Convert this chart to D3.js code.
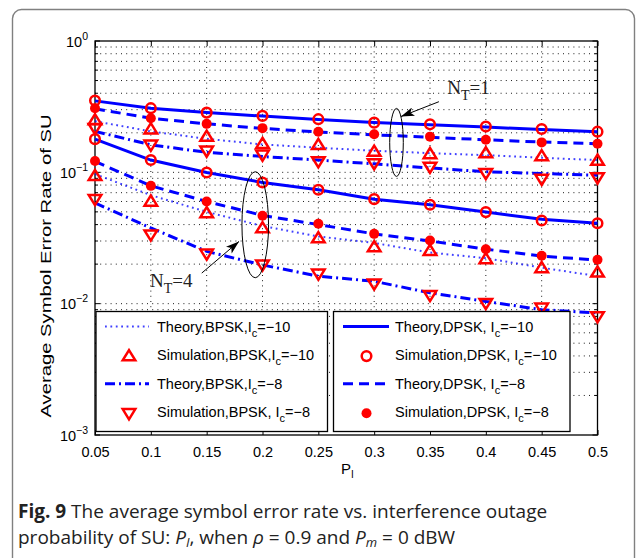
<!DOCTYPE html>
<html><head><meta charset="utf-8">
<script src="https://cdn.jsdelivr.net/npm/d3@7"></script>
<style>body{margin:0;background:#fff}svg{display:block}</style>
</head><body><svg id="c" width="637" height="558"></svg>
<script>
const pI = [0.05,0.1,0.15,0.2,0.25,0.3,0.35,0.4,0.45,0.5];
const xTickLabels = ["0.05","0.1","0.15","0.2","0.25","0.3","0.35","0.4","0.45","0.5"];
const yTickExps = ["0","\u22121","\u22122","\u22123"];
// N_T = 1
const thDPSK10_N1 = [0.350,0.308,0.285,0.268,0.253,0.240,0.230,0.221,0.212,0.204];
const simDPSK10_N1 = [0.352,0.308,0.285,0.269,0.254,0.239,0.232,0.223,0.214,0.204];
const thDPSK8_N1 = [0.305,0.258,0.234,0.216,0.203,0.193,0.185,0.177,0.170,0.165];
const simDPSK8_N1 = [0.308,0.258,0.234,0.217,0.204,0.195,0.187,0.177,0.169,0.165];
const thBPSK10_N1 = [0.245,0.205,0.180,0.163,0.154,0.146,0.140,0.135,0.129,0.124];
const simBPSK10_N1 = [0.250,0.213,0.187,0.165,0.162,0.144,0.138,0.140,0.133,0.123];
const thBPSK8_N1 = [0.205,0.162,0.142,0.132,0.124,0.116,0.108,0.101,0.098,0.095];
const simBPSK8_N1 = [0.217,0.162,0.146,0.136,0.121,0.117,0.110,0.0985,0.089,0.0913];
// N_T = 4
const thDPSK10_N4 = [0.179,0.124,0.0997,0.0837,0.0736,0.0625,0.0566,0.0498,0.044,0.041];
const simDPSK10_N4 = [0.179,0.124,0.0997,0.0837,0.0736,0.0625,0.0566,0.0498,0.043,0.041];
const thDPSK8_N4 = [0.121,0.079,0.060,0.047,0.040,0.034,0.030,0.026,0.023,0.0215];
const simDPSK8_N4 = [0.122,0.0789,0.060,0.0467,0.0406,0.034,0.0303,0.026,0.0232,0.0216];
const thBPSK10_N4 = [0.097,0.067,0.050,0.039,0.0325,0.029,0.0245,0.0222,0.0188,0.0162];
const simBPSK10_N4 = [0.094,0.060,0.049,0.0376,0.0316,0.027,0.0253,0.0219,0.0187,0.0173];
const thBPSK8_N4 = [0.0585,0.0377,0.025,0.0197,0.0162,0.0148,0.0121,0.0104,0.0090,0.0085];
const simBPSK8_N4 = [0.0625,0.0335,0.024,0.0198,0.0169,0.0142,0.0116,0.0101,0.0093,0.0080];

const legendLeft = [
  {pre:"Theory,BPSK,I", post:"=\u221210", type:"dotted"},
  {pre:"Simulation,BPSK,I", post:"=\u221210", type:"triUp"},
  {pre:"Theory,BPSK,I", post:"=\u22128", type:"dashdot"},
  {pre:"Simulation,BPSK, I", post:"=\u22128", type:"triDown"}
];
const legendRight = [
  {pre:"Theory,DPSK, I", post:"=\u221210", type:"solid"},
  {pre:"Simulation,DPSK, I", post:"=\u221210", type:"circle"},
  {pre:"Theory,DPSK, I", post:"=\u22128", type:"dashed"},
  {pre:"Simulation,DPSK, I", post:"=\u22128", type:"dot"}
];

const svg = d3.select("#c");
const L=95, R=597.5, T=41, B=435;
const x = d3.scaleLinear().domain([0.05,0.5]).range([L,R]);
const y = d3.scaleLog().domain([1e-3,1]).range([B,T]);
const FONT = "'Liberation Sans', Arial, Helvetica, sans-serif";
const BLUE = "#0000ff", RED = "#ff0000";

// outer frame
svg.append("rect").attr("x",12.5).attr("y",9.5).attr("width",622).attr("height",600)
  .attr("rx",9).attr("fill","none").attr("stroke","#808080").attr("stroke-width",1.4);

// grid
const g = svg.append("g");
const minor = [];
for (let e=-3;e<0;e++) for (let k=1;k<10;k++) minor.push(k*Math.pow(10,e));
minor.push(1);
g.selectAll(".hg").data(minor.filter(v=>v>1e-3 && v<1)).enter().append("line")
  .attr("x1",L).attr("x2",R).attr("y1",d=>y(d)).attr("y2",d=>y(d))
  .attr("stroke","#000").attr("stroke-width",0.9).attr("stroke-dasharray","1,4.2");
g.selectAll(".vg").data(pI.slice(1,-1)).enter().append("line")
  .attr("x1",d=>x(d)).attr("x2",d=>x(d)).attr("y1",T).attr("y2",B)
  .attr("stroke","#000").attr("stroke-width",0.9).attr("stroke-dasharray","1,4.2");

// axes ticks (inward)
const xa = d3.axisBottom(x).tickValues(pI).tickSize(-5).tickFormat((d,i)=>xTickLabels[i]).tickPadding(12);
const xg = svg.append("g").attr("transform",`translate(0,${B})`).call(xa);
xg.select(".domain").remove();
xg.selectAll("text").attr("font-family",FONT).attr("font-size",14.5).attr("fill","#000");
xg.selectAll("line").attr("stroke","#000");
const xt = d3.axisTop(x).tickValues(pI).tickSize(-5).tickFormat("");
const xtg = svg.append("g").attr("transform",`translate(0,${T})`).call(xt);
xtg.select(".domain").remove();
const isDecade = d=>[1,0.1,0.01,0.001].some(v=>Math.abs(v-d)<1e-9);
svg.selectAll(".ytl").data(minor).enter().append("line")
  .attr("x1",L).attr("x2",d=>L+(isDecade(d)?5:3))
  .attr("y1",d=>y(d)).attr("y2",d=>y(d)).attr("stroke","#000");
svg.selectAll(".ytr").data(minor).enter().append("line")
  .attr("x1",R).attr("x2",d=>R-(isDecade(d)?5:3))
  .attr("y1",d=>y(d)).attr("y2",d=>y(d)).attr("stroke","#000");
// y tick labels
const decades=[1,0.1,0.01,0.001];
const ylab = svg.selectAll(".ylab").data(decades).enter().append("text")
  .attr("x",88).attr("y",d=>y(d)+5.5).attr("text-anchor","end")
  .attr("font-family",FONT).attr("font-size",14.5).attr("fill","#000");
ylab.append("tspan").text("10");
ylab.append("tspan").attr("dy",-7).attr("font-size",10.5).text((d,i)=>yTickExps[i]);

// box
svg.append("rect").attr("x",L).attr("y",T).attr("width",R-L).attr("height",B-T)
  .attr("fill","none").attr("stroke","#000").attr("stroke-width",1.3);

// lines
const styles = {
  solid:{dash:null,w:3},
  dashed:{dash:"10,6",w:3},
  dotted:{dash:"1.8,3.6",w:2},
  dashdot:{dash:"10,4,2,4",w:3}
};
const lineGen = d3.line().x((d,i)=>x(pI[i])).y(d=>y(d));
const lines = [
  [thBPSK10_N1,"dotted"],[thBPSK8_N1,"dashdot"],[thDPSK10_N1,"solid"],[thDPSK8_N1,"dashed"],
  [thBPSK10_N4,"dotted"],[thBPSK8_N4,"dashdot"],[thDPSK10_N4,"solid"],[thDPSK8_N4,"dashed"]
];
svg.append("g").selectAll("path").data(lines).enter().append("path")
  .attr("d",d=>lineGen(d[0])).attr("fill","none").attr("stroke",BLUE)
  .attr("stroke-width",d=>styles[d[1]].w).attr("stroke-dasharray",d=>styles[d[1]].dash)
  .attr("opacity",d=>d[1]==="dotted"?0.75:1);

// markers
const TRI_UP="M0,-6L6.3,4.2L-6.3,4.2Z", TRI_DOWN="M0,6L6.3,-4.2L-6.3,-4.2Z";
function drawMarker(sel,type){
  if(type==="triUp") sel.append("path").attr("d",TRI_UP).attr("fill","none").attr("stroke",RED).attr("stroke-width",2.5);
  else if(type==="triDown") sel.append("path").attr("d",TRI_DOWN).attr("fill","none").attr("stroke",RED).attr("stroke-width",2.5);
  else if(type==="circle") sel.append("circle").attr("r",4.8).attr("fill","none").attr("stroke",RED).attr("stroke-width",2.5);
  else if(type==="dot") sel.append("circle").attr("r",5).attr("fill",RED);
}
const sims = [
  [simBPSK10_N1,"triUp"],[simBPSK8_N1,"triDown"],[simDPSK10_N1,"circle"],[simDPSK8_N1,"dot"],
  [simBPSK10_N4,"triUp"],[simBPSK8_N4,"triDown"],[simDPSK10_N4,"circle"],[simDPSK8_N4,"dot"]
];
const mg = svg.append("g");
sims.forEach(([arr,type])=>{
  arr.forEach((v,i)=>{
    const s = mg.append("g").attr("transform",`translate(${x(pI[i])},${y(v)})`);
    drawMarker(s,type);
  });
});

// annotations
const ann = svg.append("g");
ann.append("ellipse").attr("cx",x(0.32)).attr("cy",y(0.169)).attr("rx",6.8).attr("ry",34)
  .attr("fill","none").attr("stroke","#000").attr("stroke-width",1);
ann.append("ellipse").attr("cx",x(0.1935)).attr("cy",y(0.0399)).attr("rx",13.3).attr("ry",53)
  .attr("fill","none").attr("stroke","#000").attr("stroke-width",1);
svg.append("defs").append("marker").attr("id","ah").attr("viewBox","0 0 12 8")
  .attr("refX",12).attr("refY",4).attr("markerWidth",14).attr("markerHeight",9)
  .attr("markerUnits","userSpaceOnUse").attr("orient","auto")
  .append("path").attr("d","M0,0L12,4L0,8L3,4Z").attr("fill","#000");
ann.append("line").attr("x1",x(0.358)).attr("y1",y(0.345)).attr("x2",x(0.324)).attr("y2",y(0.266))
  .attr("stroke","#000").attr("stroke-width",1).attr("marker-end","url(#ah)");
ann.append("line").attr("x1",x(0.1456)).attr("y1",y(0.0171)).attr("x2",x(0.179)).attr("y2",y(0.0298))
  .attr("stroke","#000").attr("stroke-width",1).attr("marker-end","url(#ah)");
function ntText(px,py,n){
  const t = ann.append("text").attr("x",px).attr("y",py)
    .attr("font-family","'Liberation Serif','Times New Roman',serif").attr("font-size",19).attr("fill","#222");
  t.append("tspan").text("N");
  t.append("tspan").attr("dy",6).attr("font-size",14).text("T");
  t.append("tspan").attr("dy",-6).text("="+n);
}
ntText(x(0.3654),y(0.395),1);
ntText(x(0.0993),y(0.01346),4);

// legends
function legend(items,bx,by,bw,bh,lx1,lx2,mx,tx){
  const lg = svg.append("g");
  lg.append("rect").attr("x",bx).attr("y",by).attr("width",bw).attr("height",bh)
    .attr("fill","#fff").attr("stroke","#000").attr("stroke-width",1.3);
  items.forEach((it,i)=>{
    const ry = by+15+i*28.6;
    if(styles[it.type]){
      lg.append("line").attr("x1",lx1).attr("x2",lx2).attr("y1",ry).attr("y2",ry)
        .attr("stroke",BLUE).attr("stroke-width",styles[it.type].w)
        .attr("stroke-dasharray",styles[it.type].dash).attr("opacity",it.type==="dotted"?0.75:1);
    } else {
      drawMarker(lg.append("g").attr("transform",`translate(${mx},${ry+1})`),it.type);
    }
    const t = lg.append("text").attr("x",tx).attr("y",ry+5).attr("font-family",FONT)
      .attr("font-size",14.5).attr("fill","#000");
    t.append("tspan").text(it.pre);
    t.append("tspan").attr("dy",5).attr("font-size",11).text("c");
    t.append("tspan").attr("dy",-5).text(it.post);
  });
}
legend(legendLeft,96,311.5,231.5,120,105,149,129,157);
legend(legendRight,333.5,311.5,236.5,120,343,389,366.5,395);

// axis labels
const xlab = svg.append("text").attr("x",341).attr("y",474).attr("font-family",FONT)
  .attr("font-size",15).attr("fill","#000");
xlab.append("tspan").text("P");
xlab.append("tspan").attr("dy",4).attr("font-size",10).text("I");
svg.append("text").attr("transform",`translate(51,266) rotate(-90)`)
  .attr("text-anchor","middle").attr("font-family",FONT).attr("font-size",15)
  .attr("textLength",303).attr("lengthAdjust","spacingAndGlyphs").attr("fill","#000")
  .text("Average Symbol Error Rate of SU");

// caption
const CF = "'Open Sans','Noto Sans',sans-serif";
const c1 = svg.append("text").attr("x",18).attr("y",518).attr("font-family",CF).attr("font-size",19).attr("fill","#222");
c1.append("tspan").attr("font-weight","bold").text("Fig. 9");
c1.append("tspan").text(" The average symbol error rate vs. interference outage");
const c2 = svg.append("text").attr("x",18).attr("y",544).attr("font-family",CF).attr("font-size",19).attr("fill","#222");
c2.append("tspan").text("probability of SU: ");
c2.append("tspan").attr("font-style","italic").text("P");
c2.append("tspan").attr("font-style","italic").attr("font-size",13).attr("dy",3).text("I");
c2.append("tspan").attr("dy",-3).text(", when ");
c2.append("tspan").attr("font-style","italic").text("\u03C1");
c2.append("tspan").text(" = 0.9 and ");
c2.append("tspan").attr("font-style","italic").text("P");
c2.append("tspan").attr("font-style","italic").attr("font-size",13).attr("dy",3).text("m");
c2.append("tspan").attr("dy",-3).text(" = 0 dBW");
</script></body></html>
